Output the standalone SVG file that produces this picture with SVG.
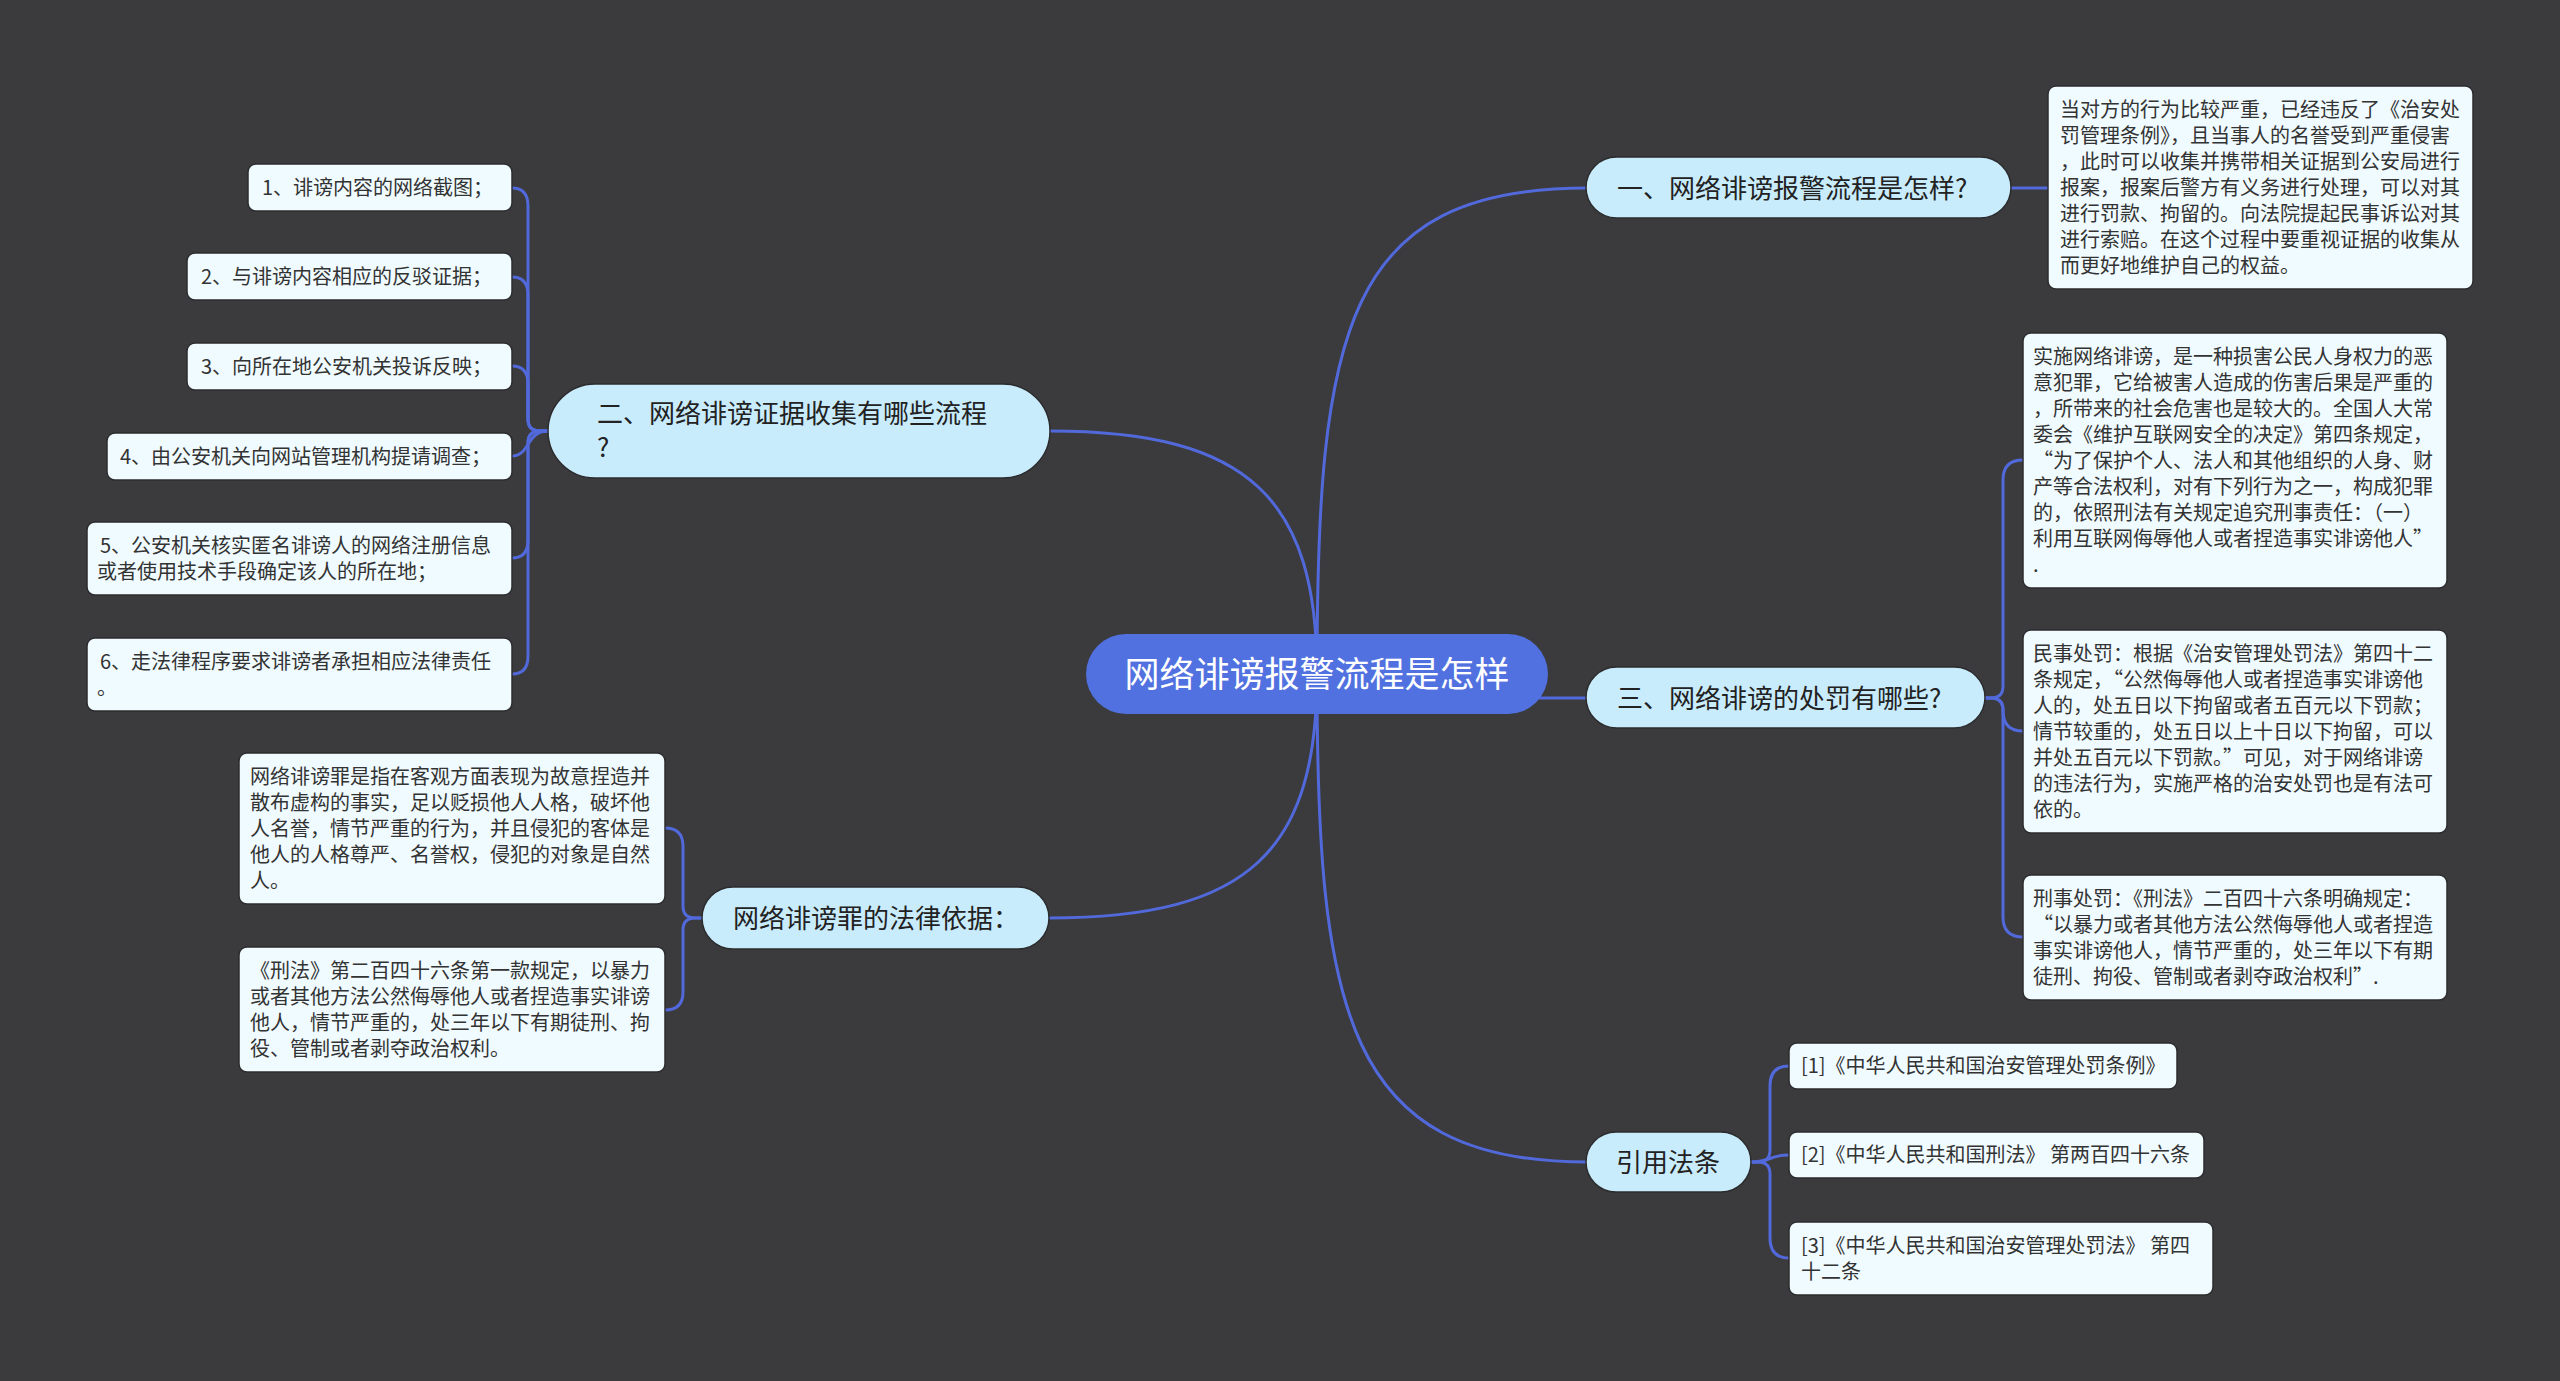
<svg xmlns="http://www.w3.org/2000/svg" width="2560" height="1381" viewBox="0 0 2560 1381">
<style>
text{font-family:"Noto Sans CJK SC","Liberation Sans",sans-serif;}
.bg{fill:#3b3a3c;}
.edge{fill:none;stroke:#5169da;stroke-width:3;stroke-linecap:round;}
.root rect{fill:#5171e0;}
.root text{fill:#ffffff;font-size:35px;}
.topic rect{fill:#c9ecfc;stroke:#2c2c2e;stroke-width:1.5;}
.topic text{fill:#222222;font-size:26px;}
.leaf rect{fill:#f0fbff;stroke:#2c2c2e;stroke-width:1.5;}
.leaf text{fill:#333333;font-size:20px;}
</style>
<rect class="bg" x="0" y="0" width="2560" height="1381"/>
<g id="connectors">
<path class="edge" d="M1317,674 C1317,330 1345,188 1587,188"/>
<path class="edge" d="M1317,674 C1317,500 1250,431 1050,431"/>
<path class="edge" d="M1317,698 H1587"/>
<path class="edge" d="M1317,674 C1317,850 1250,918 1049,918"/>
<path class="edge" d="M1317,674 C1317,1010 1345,1162 1587,1162"/>
<path class="edge" d="M2011,188 H2048"/>
<path class="edge" d="M548,431 H540 Q528,431 528,419 V206 Q528,188 512,188"/>
<path class="edge" d="M548,431 H540 Q528,431 528,419 V295 Q528,277 512,277"/>
<path class="edge" d="M548,431 H540 Q528,431 528,419 V384 Q528,366 512,366"/>
<path class="edge" d="M548,431 C526,431 530,456 512,456"/>
<path class="edge" d="M548,431 H540 Q528,431 528,443 V540 Q528,558 512,558"/>
<path class="edge" d="M548,431 H540 Q528,431 528,443 V656 Q528,674 512,674"/>
<path class="edge" d="M702,918 H695 Q683,918 683,906 V846 Q683,828 665,828"/>
<path class="edge" d="M702,918 H695 Q683,918 683,930 V992 Q683,1010 665,1010"/>
<path class="edge" d="M1985,698 H1991 Q2003,698 2003,686 V480 Q2003,460 2023,460"/>
<path class="edge" d="M1985,698 H1991 Q2003,698 2003,710 V711 Q2003,731 2023,731"/>
<path class="edge" d="M1985,698 H1991 Q2003,698 2003,710 V917 Q2003,937 2023,937"/>
<path class="edge" d="M1751,1162 H1758 Q1770,1162 1770,1150 V1086 Q1770,1066 1789,1066"/>
<path class="edge" d="M1751,1162 C1772,1162 1768,1155 1789,1155"/>
<path class="edge" d="M1751,1162 H1758 Q1770,1162 1770,1174 V1238 Q1770,1258 1789,1258"/>
</g>
<g id="root" class="root">
<rect x="1086" y="634" width="462" height="80" rx="40"/>
<text x="1317" y="687" text-anchor="middle">网络诽谤报警流程是怎样</text>
</g>
<g id="t1" class="topic">
<rect x="1586" y="157" width="425" height="61" rx="30.5"/>
<text x="1617" y="198">一、网络诽谤报警流程是怎样?</text>
</g>
<g id="t2" class="topic">
<rect x="548" y="384" width="502" height="94" rx="47"/>
<text x="597" y="423">二、网络诽谤证据收集有哪些流程<tspan x="597" dy="34">?</tspan></text>
</g>
<g id="t3" class="topic">
<rect x="1586" y="667" width="399" height="61" rx="30.5"/>
<text x="1617" y="708">三、网络诽谤的处罚有哪些?</text>
</g>
<g id="t4" class="topic">
<rect x="702" y="887" width="347" height="62" rx="31"/>
<text x="733" y="928">网络诽谤罪的法律依据：</text>
</g>
<g id="t5" class="topic">
<rect x="1586" y="1132" width="165" height="60" rx="30"/>
<text x="1668" y="1172" text-anchor="middle">引用法条</text>
</g>
<g id="b1" class="leaf">
<rect x="2048" y="86" width="425" height="203" rx="8"/>
<text x="2060" y="117"><tspan x="2060">当对方的行为比较严重，已经违反了《治安处</tspan><tspan x="2060" dy="26">罚管理条例》，且当事人的名誉受到严重侵害</tspan><tspan x="2060" dy="26">，此时可以收集并携带相关证据到公安局进行</tspan><tspan x="2060" dy="26">报案，报案后警方有义务进行处理，可以对其</tspan><tspan x="2060" dy="26">进行罚款、拘留的。向法院提起民事诉讼对其</tspan><tspan x="2060" dy="26">进行索赔。在这个过程中要重视证据的收集从</tspan><tspan x="2060" dy="26">而更好地维护自己的权益。</tspan></text>
</g>
<g id="b2" class="leaf">
<rect x="2023" y="333" width="424" height="255" rx="8"/>
<text x="2033" y="364"><tspan x="2033">实施网络诽谤，是一种损害公民人身权力的恶</tspan><tspan x="2033" dy="26">意犯罪，它给被害人造成的伤害后果是严重的</tspan><tspan x="2033" dy="26">，所带来的社会危害也是较大的。全国人大常</tspan><tspan x="2033" dy="26">委会《维护互联网安全的决定》第四条规定，</tspan><tspan x="2033" dy="26">“为了保护个人、法人和其他组织的人身、财</tspan><tspan x="2033" dy="26">产等合法权利，对有下列行为之一，构成犯罪</tspan><tspan x="2033" dy="26">的，依照刑法有关规定追究刑事责任：（一）</tspan><tspan x="2033" dy="26">利用互联网侮辱他人或者捏造事实诽谤他人”</tspan><tspan x="2033" dy="26">.</tspan></text>
</g>
<g id="b3" class="leaf">
<rect x="2023" y="630" width="424" height="203" rx="8"/>
<text x="2033" y="661"><tspan x="2033">民事处罚：根据《治安管理处罚法》第四十二</tspan><tspan x="2033" dy="26">条规定，“公然侮辱他人或者捏造事实诽谤他</tspan><tspan x="2033" dy="26">人的，处五日以下拘留或者五百元以下罚款；</tspan><tspan x="2033" dy="26">情节较重的，处五日以上十日以下拘留，可以</tspan><tspan x="2033" dy="26">并处五百元以下罚款。”可见，对于网络诽谤</tspan><tspan x="2033" dy="26">的违法行为，实施严格的治安处罚也是有法可</tspan><tspan x="2033" dy="26">依的。</tspan></text>
</g>
<g id="b4" class="leaf">
<rect x="2023" y="875" width="424" height="125" rx="8"/>
<text x="2033" y="906"><tspan x="2033">刑事处罚：《刑法》二百四十六条明确规定：</tspan><tspan x="2033" dy="26">“以暴力或者其他方法公然侮辱他人或者捏造</tspan><tspan x="2033" dy="26">事实诽谤他人，情节严重的，处三年以下有期</tspan><tspan x="2033" dy="26">徒刑、拘役、管制或者剥夺政治权利”.</tspan></text>
</g>
<g id="c1" class="leaf">
<rect x="248" y="164" width="264" height="47" rx="8"/>
<text x="262" y="195">1、诽谤内容的网络截图；</text>
</g>
<g id="c2" class="leaf">
<rect x="187" y="253" width="325" height="47" rx="8"/>
<text x="201" y="284">2、与诽谤内容相应的反驳证据；</text>
</g>
<g id="c3" class="leaf">
<rect x="187" y="343" width="325" height="47" rx="8"/>
<text x="201" y="374">3、向所在地公安机关投诉反映；</text>
</g>
<g id="c4" class="leaf">
<rect x="107" y="433" width="405" height="47" rx="8"/>
<text x="120" y="464">4、由公安机关向网站管理机构提请调查；</text>
</g>
<g id="c5" class="leaf">
<rect x="87" y="522" width="425" height="73" rx="8"/>
<text x="100" y="553"><tspan x="100">5、公安机关核实匿名诽谤人的网络注册信息</tspan><tspan x="97" dy="26">或者使用技术手段确定该人的所在地；</tspan></text>
</g>
<g id="c6" class="leaf">
<rect x="87" y="638" width="425" height="73" rx="8"/>
<text x="100" y="669"><tspan x="100">6、走法律程序要求诽谤者承担相应法律责任</tspan><tspan x="97" dy="26">。</tspan></text>
</g>
<g id="l1" class="leaf">
<rect x="239" y="753" width="426" height="151" rx="8"/>
<text x="250" y="784"><tspan x="250">网络诽谤罪是指在客观方面表现为故意捏造并</tspan><tspan x="250" dy="26">散布虚构的事实，足以贬损他人人格，破坏他</tspan><tspan x="250" dy="26">人名誉，情节严重的行为，并且侵犯的客体是</tspan><tspan x="250" dy="26">他人的人格尊严、名誉权，侵犯的对象是自然</tspan><tspan x="250" dy="26">人。</tspan></text>
</g>
<g id="l2" class="leaf">
<rect x="239" y="947" width="426" height="125" rx="8"/>
<text x="250" y="978"><tspan x="250">《刑法》第二百四十六条第一款规定，以暴力</tspan><tspan x="250" dy="26">或者其他方法公然侮辱他人或者捏造事实诽谤</tspan><tspan x="250" dy="26">他人，情节严重的，处三年以下有期徒刑、拘</tspan><tspan x="250" dy="26">役、管制或者剥夺政治权利。</tspan></text>
</g>
<g id="r1" class="leaf">
<rect x="1789" y="1043" width="388" height="46" rx="8"/>
<text x="1801" y="1073">[1]《中华人民共和国治安管理处罚条例》</text>
</g>
<g id="r2" class="leaf">
<rect x="1789" y="1132" width="415" height="46" rx="8"/>
<text x="1801" y="1162">[2]《中华人民共和国刑法》 第两百四十六条</text>
</g>
<g id="r3" class="leaf">
<rect x="1789" y="1222" width="424" height="73" rx="8"/>
<text x="1801" y="1253"><tspan x="1801">[3]《中华人民共和国治安管理处罚法》 第四</tspan><tspan x="1801" dy="26">十二条</tspan></text>
</g>
</svg>
